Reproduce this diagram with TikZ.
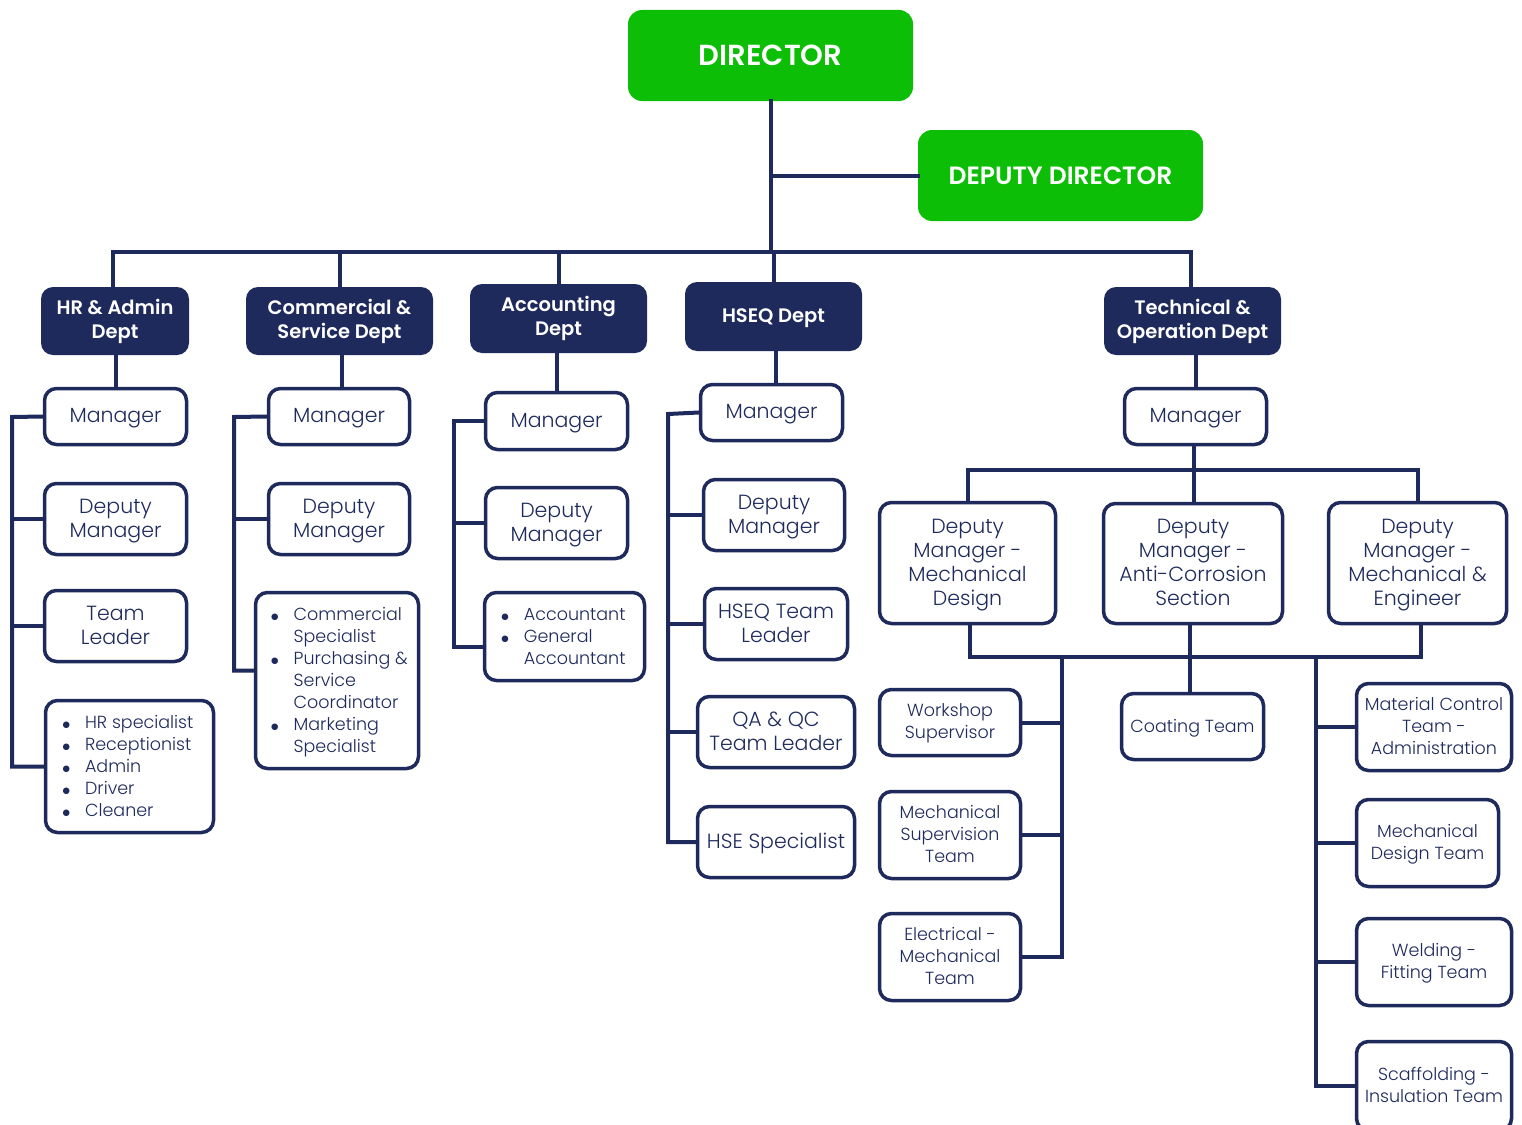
\documentclass[tikz,border=0pt]{standalone}
\usepackage{fontspec}
\setmainfont{Poppins}[UprightFont=* Light, BoldFont=* SemiBold]
\newfontfamily\dejavu{DejaVu Sans}
\usepackage{array}
\definecolor{navy}{RGB}{31,42,92}
\definecolor{grn}{RGB}{12,190,5}
\newcommand\mybul{\raisebox{1.6pt}{\dejavu\fontsize{8.5}{8.5}\selectfont ●}}
\newcommand\firstrow{\rule{0pt}{19.4pt}}
\begin{document}
\begin{tikzpicture}[x=1pt,y=-1pt,
  greenbox/.style={fill=grn, draw=none, rounded corners=14pt, text=white, font=\bfseries\fontsize{29}{34}\selectfont, inner sep=0},
  dept/.style={fill=navy, draw=none, rounded corners=12pt, text=white, align=center, font=\bfseries\fontsize{19.5}{24}\selectfont, inner sep=0},
  wbase/.style={draw=navy, fill=white, line width=3.5pt, rounded corners=12pt, text=navy, align=center, font=\fontsize{20.5}{24}\selectfont, inner sep=0},
  wbox/.style={wbase, text depth=2pt},
  sbox/.style={wbox, font=\fontsize{17.5}{22}\selectfont},
  lbox/.style={wbase, font=\fontsize{17.5}{22}\selectfont},
  conn/.style={draw=navy, line width=4pt, line cap=rect}]
\useasboundingbox (0,0) rectangle (1522,1124);
% top
\node[greenbox, minimum width=285pt, minimum height=91pt] (dir) at (770.5,55.5) {DIRECTOR};
\node[greenbox, minimum width=285pt, minimum height=91pt, font=\bfseries\fontsize{25}{30}\selectfont] (dep) at (1060.5,175.5) {DEPUTY DIRECTOR};
% departments
\node[dept, minimum width=148pt, minimum height=68pt] (hr) at (115,321) {HR \& Admin\\Dept};
\node[dept, minimum width=187pt, minimum height=68pt] (com) at (339.5,321) {Commercial \&\\Service Dept};
\node[dept, minimum width=177pt, minimum height=69pt] (acc) at (558.5,318.5) {Accounting\\Dept};
\node[dept, minimum width=177pt, minimum height=69pt, text depth=2pt] (hseq) at (773.5,316.5) {HSEQ Dept};
\node[dept, minimum width=177pt, minimum height=68pt] (tech) at (1192.5,321) {Technical \&\\Operation Dept};
% HR column
\node[wbox, minimum width=142pt, minimum height=56pt] (hrm) at (115.5,416.5) {Manager};
\node[wbox, minimum width=142pt, minimum height=71pt] (hrd) at (115.5,519) {Deputy\\Manager};
\node[wbox, minimum width=142pt, minimum height=71pt] (hrt) at (115.5,626) {Team\\Leader};
\node[lbox, minimum width=168pt, minimum height=132pt] (hrl) at (129.5,766.5) {\begin{tabular}{@{}c@{\hspace{15pt}}l@{}}\firstrow\mybul & HR specialist\\ \mybul & Receptionist\\ \mybul & Admin\\ \mybul & Driver\\ \mybul & Cleaner\end{tabular}\hspace{3pt}};
% Commercial column
\node[wbox, minimum width=141pt, minimum height=56pt] (cm) at (339,416.5) {Manager};
\node[wbox, minimum width=141pt, minimum height=71pt] (cd) at (339,519) {Deputy\\Manager};
\node[lbox, minimum width=163pt, minimum height=176pt] (cl) at (337,680.5) {\hspace{5pt}\begin{tabular}{@{}c@{\hspace{15pt}}l@{}}\firstrow\mybul & Commercial\\ & Specialist\\ \mybul & Purchasing \&\\ & Service\\ & Coordinator\\ \mybul & Marketing\\ & Specialist\end{tabular}};
% Accounting column
\node[wbox, minimum width=142pt, minimum height=57pt] (am) at (556.5,421) {Manager};
\node[wbox, minimum width=142pt, minimum height=71pt] (ad) at (556.5,523) {Deputy\\Manager};
\node[lbox, minimum width=160pt, minimum height=88pt] (al) at (564.5,636.5) {\begin{tabular}{@{}c@{\hspace{15pt}}l@{}}\firstrow\mybul & Accountant\\ \mybul & General\\ & Accountant\end{tabular}\hspace{2pt}};
% HSEQ column
\node[wbox, minimum width=142pt, minimum height=56pt] (hm) at (771.5,412.5) {Manager};
\node[wbox, minimum width=141pt, minimum height=71pt] (hd) at (774,515) {Deputy\\Manager};
\node[wbox, minimum width=143pt, minimum height=71pt] (htl) at (776,624) {HSEQ Team\\Leader};
\node[wbox, minimum width=157pt, minimum height=71pt] (hqa) at (776,732) {QA \& QC\\Team Leader};
\node[wbox, minimum width=157pt, minimum height=71pt] (hse) at (776,842) {HSE Specialist};
% Technical column
\node[wbox, minimum width=142pt, minimum height=56pt] (tm) at (1195.5,416.5) {Manager};
\node[wbox, minimum width=176pt, minimum height=121pt] (dm1) at (967.5,563) {Deputy\\Manager -\\Mechanical\\Design};
\node[wbox, minimum width=179pt, minimum height=120pt] (dm2) at (1193,563.5) {Deputy\\Manager -\\Anti-Corrosion\\Section};
\node[wbox, minimum width=178pt, minimum height=121pt] (dm3) at (1417.5,563) {Deputy\\Manager -\\Mechanical \&\\Engineer};
\node[sbox, minimum width=141pt, minimum height=66pt] (ws) at (950,722.5) {Workshop\\Supervisor};
\node[sbox, minimum width=141pt, minimum height=87pt] (msup) at (950,835) {Mechanical\\Supervision\\Team};
\node[sbox, minimum width=141pt, minimum height=87pt] (elec) at (950,957) {Electrical -\\Mechanical\\Team};
\node[sbox, minimum width=142pt, minimum height=66pt] (coat) at (1192.5,726.5) {Coating Team};
\node[sbox, minimum width=155pt, minimum height=87pt] (matc) at (1434,727) {Material Control\\Team -\\Administration};
\node[sbox, minimum width=142pt, minimum height=87pt] (mdes) at (1427.5,843) {Mechanical\\Design Team};
\node[sbox, minimum width=155pt, minimum height=87pt] (weld) at (1434,962) {Welding -\\Fitting Team};
\node[sbox, minimum width=155pt, minimum height=89pt] (scaf) at (1434,1086) {Scaffolding -\\Insulation Team};
% connectors top
\coordinate (busL) at (113,252);
\coordinate (busR) at (1191,252);
\draw[conn] (dir.south) -- (dir.south |- busL);
\draw[conn] (dep.west -| dir.south) -- (dep.west);
\draw[conn] (busL) -- (busR);
\draw[conn] (hr.north -| busL) -- (busL);
\draw[conn] (com.north) -- (com.north |- busL);
\draw[conn] (acc.north) -- (acc.north |- busL);
\draw[conn] (hseq.north) -- (hseq.north |- busL);
\draw[conn] (tech.north -| busR) -- (busR);
% dept to manager
\draw[conn] (hrm.north) -- (hrm.north |- hr.south);
\draw[conn] ([xshift=3pt]cm.north) -- ([xshift=3pt]cm.north |- com.south);
\draw[conn] (am.north) -- (am.north |- acc.south);
\draw[conn] ([xshift=4pt]hm.north) -- ([xshift=4pt]hm.north |- hseq.south);
\draw[conn] (tm.north) -- (tm.north |- tech.south);
% HR spine
\coordinate (hrs) at (12,417);
\draw[conn] (hrm.west) -- (hrs) |- (hrl.west);
\draw[conn] (hrd.west) -- (hrd.west -| hrs);
\draw[conn] (hrt.west) -- (hrt.west -| hrs);
% Commercial spine
\coordinate (cs) at (234,417);
\draw[conn] (cm.west) -- (cs) |- ([yshift=10pt]cl.west);
\draw[conn] (cd.west) -- (cd.west -| cs);
% Accounting spine
\coordinate (as) at (454,421);
\draw[conn] (am.west) -- (as) |- ([yshift=-10pt]al.west);
\draw[conn] (ad.west) -- (ad.west -| as);
% HSEQ spine
\coordinate (hs) at (668,414);
\draw[conn] (hm.west) -- (hs) |- (hse.west);
\draw[conn] (hd.west) -- (hd.west -| hs);
\draw[conn] (htl.west) -- (htl.west -| hs);
\draw[conn] (hqa.west) -- (hqa.west -| hs);
% Technical
\coordinate (tbus) at (1194,470);
\draw[conn] (tm.south -| tbus) -- (tbus);
\draw[conn] (dm1.north) -- (dm1.north |- tbus) -| (dm3.north);
\draw[conn] (dm2.north -| tbus) -- (tbus);
\coordinate (lbus) at (970,657);
\draw[conn] ([xshift=2.5pt]dm1.south) -- (lbus) -| ([xshift=3.5pt]dm3.south);
\draw[conn] ([xshift=-3pt]dm2.south) -- ([xshift=-3pt]coat.north -| dm2.south);
\coordinate (ls) at (1062,657);
\draw[conn] (ls) |- (elec.east);
\draw[conn] (ws.east) -- (ws.east -| ls);
\draw[conn] (msup.east) -- (msup.east -| ls);
\coordinate (rs) at (1316,657);
\draw[conn] (rs) |- (scaf.west);
\draw[conn] (matc.west) -- (matc.west -| rs);
\draw[conn] (mdes.west) -- (mdes.west -| rs);
\draw[conn] (weld.west) -- (weld.west -| rs);
\end{tikzpicture}
\end{document}
